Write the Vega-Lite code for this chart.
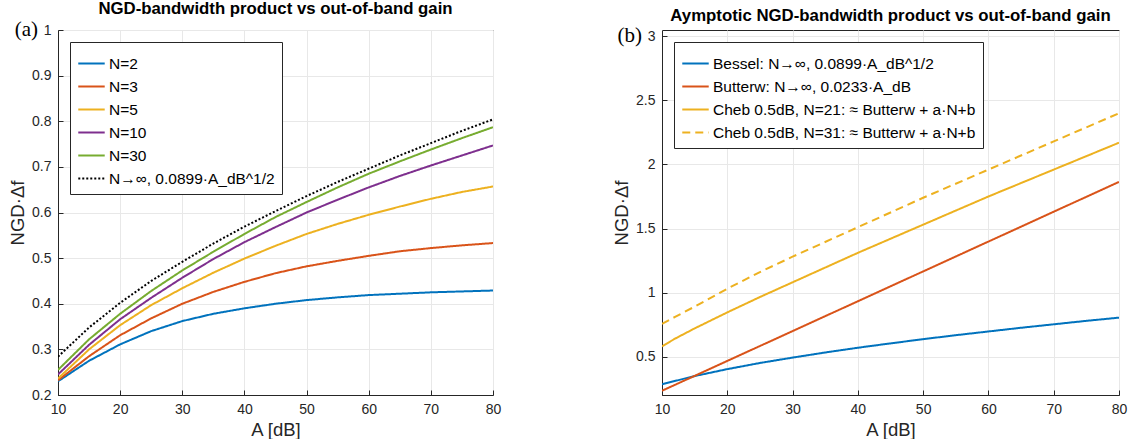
{
  "$schema": "https://vega.github.io/schema/vega-lite/v6.json",
  "padding": {"left": 8, "top": 0, "right": 0, "bottom": 0},
  "spacing": 110,
  "config": {
    "font": "Liberation Sans",
    "view": {"stroke": "#262626", "strokeWidth": 1},
    "axis": {
      "gridColor": "#e8e8e8", "gridWidth": 1, "domainColor": "#262626",
      "tickColor": "#262626", "tickSize": -5, "labelPadding": 12, "labelFlush": false,
      "labelFont": "Liberation Sans", "labelFontSize": 14, "labelColor": "#262626",
      "titleFont": "Liberation Sans", "titleFontSize": 18.5, "titleFontWeight": "normal", "titleColor": "#262626"
    },
    "title": {"font": "Liberation Sans", "fontSize": 16.8, "fontWeight": "bold", "color": "#000000", "offset": 1},
    "legend": {
      "orient": "top-left", "offset": 12, "strokeColor": "#262626", "fillColor": "#ffffff",
      "padding": 7, "labelFontSize": 15.5, "labelColor": "#000000", "labelFont": "Liberation Sans", "labelLimit": 0,
      "symbolType": "stroke", "symbolSize": 700, "symbolStrokeWidth": 2, "rowPadding": 0, "labelOffset": 3, "cornerRadius": 0
    }
  },
  "datasets": {
    "left": [
      {"A":10,"v":0.230,"s":"N=2"},{"A":15,"v":0.275,"s":"N=2"},{"A":20,"v":0.311,"s":"N=2"},{"A":25,"v":0.340,"s":"N=2"},{"A":30,"v":0.362,"s":"N=2"},{"A":35,"v":0.378,"s":"N=2"},{"A":40,"v":0.390,"s":"N=2"},{"A":45,"v":0.400,"s":"N=2"},{"A":50,"v":0.408,"s":"N=2"},{"A":55,"v":0.414,"s":"N=2"},{"A":60,"v":0.419,"s":"N=2"},{"A":65,"v":0.422,"s":"N=2"},{"A":70,"v":0.425,"s":"N=2"},{"A":75,"v":0.427,"s":"N=2"},{"A":80,"v":0.429,"s":"N=2"},
      {"A":10,"v":0.232,"s":"N=3"},{"A":15,"v":0.285,"s":"N=3"},{"A":20,"v":0.331,"s":"N=3"},{"A":25,"v":0.368,"s":"N=3"},{"A":30,"v":0.400,"s":"N=3"},{"A":35,"v":0.426,"s":"N=3"},{"A":40,"v":0.448,"s":"N=3"},{"A":45,"v":0.467,"s":"N=3"},{"A":50,"v":0.482,"s":"N=3"},{"A":55,"v":0.494,"s":"N=3"},{"A":60,"v":0.505,"s":"N=3"},{"A":65,"v":0.515,"s":"N=3"},{"A":70,"v":0.522,"s":"N=3"},{"A":75,"v":0.528,"s":"N=3"},{"A":80,"v":0.533,"s":"N=3"},
      {"A":10,"v":0.236,"s":"N=5"},{"A":15,"v":0.300,"s":"N=5"},{"A":20,"v":0.353,"s":"N=5"},{"A":25,"v":0.397,"s":"N=5"},{"A":30,"v":0.434,"s":"N=5"},{"A":35,"v":0.468,"s":"N=5"},{"A":40,"v":0.499,"s":"N=5"},{"A":45,"v":0.527,"s":"N=5"},{"A":50,"v":0.553,"s":"N=5"},{"A":55,"v":0.575,"s":"N=5"},{"A":60,"v":0.595,"s":"N=5"},{"A":65,"v":0.613,"s":"N=5"},{"A":70,"v":0.630,"s":"N=5"},{"A":75,"v":0.645,"s":"N=5"},{"A":80,"v":0.657,"s":"N=5"},
      {"A":10,"v":0.245,"s":"N=10"},{"A":15,"v":0.310,"s":"N=10"},{"A":20,"v":0.366,"s":"N=10"},{"A":25,"v":0.413,"s":"N=10"},{"A":30,"v":0.457,"s":"N=10"},{"A":35,"v":0.498,"s":"N=10"},{"A":40,"v":0.535,"s":"N=10"},{"A":45,"v":0.568,"s":"N=10"},{"A":50,"v":0.600,"s":"N=10"},{"A":55,"v":0.628,"s":"N=10"},{"A":60,"v":0.655,"s":"N=10"},{"A":65,"v":0.680,"s":"N=10"},{"A":70,"v":0.703,"s":"N=10"},{"A":75,"v":0.725,"s":"N=10"},{"A":80,"v":0.747,"s":"N=10"},
      {"A":10,"v":0.255,"s":"N=30"},{"A":15,"v":0.322,"s":"N=30"},{"A":20,"v":0.378,"s":"N=30"},{"A":25,"v":0.428,"s":"N=30"},{"A":30,"v":0.473,"s":"N=30"},{"A":35,"v":0.514,"s":"N=30"},{"A":40,"v":0.553,"s":"N=30"},{"A":45,"v":0.590,"s":"N=30"},{"A":50,"v":0.623,"s":"N=30"},{"A":55,"v":0.655,"s":"N=30"},{"A":60,"v":0.685,"s":"N=30"},{"A":65,"v":0.712,"s":"N=30"},{"A":70,"v":0.738,"s":"N=30"},{"A":75,"v":0.763,"s":"N=30"},{"A":80,"v":0.787,"s":"N=30"},
      {"A":10,"v":0.284,"s":"N→∞, 0.0899·A_dB^1/2"},{"A":15,"v":0.348,"s":"N→∞, 0.0899·A_dB^1/2"},{"A":20,"v":0.402,"s":"N→∞, 0.0899·A_dB^1/2"},{"A":25,"v":0.450,"s":"N→∞, 0.0899·A_dB^1/2"},{"A":30,"v":0.492,"s":"N→∞, 0.0899·A_dB^1/2"},{"A":35,"v":0.532,"s":"N→∞, 0.0899·A_dB^1/2"},{"A":40,"v":0.569,"s":"N→∞, 0.0899·A_dB^1/2"},{"A":45,"v":0.603,"s":"N→∞, 0.0899·A_dB^1/2"},{"A":50,"v":0.636,"s":"N→∞, 0.0899·A_dB^1/2"},{"A":55,"v":0.667,"s":"N→∞, 0.0899·A_dB^1/2"},{"A":60,"v":0.696,"s":"N→∞, 0.0899·A_dB^1/2"},{"A":65,"v":0.725,"s":"N→∞, 0.0899·A_dB^1/2"},{"A":70,"v":0.752,"s":"N→∞, 0.0899·A_dB^1/2"},{"A":75,"v":0.779,"s":"N→∞, 0.0899·A_dB^1/2"},{"A":80,"v":0.804,"s":"N→∞, 0.0899·A_dB^1/2"}
    ],
    "right": [
      {"A":10,"v":0.284,"s":"Bessel: N→∞, 0.0899·A_dB^1/2"},{"A":15,"v":0.348,"s":"Bessel: N→∞, 0.0899·A_dB^1/2"},{"A":20,"v":0.402,"s":"Bessel: N→∞, 0.0899·A_dB^1/2"},{"A":25,"v":0.450,"s":"Bessel: N→∞, 0.0899·A_dB^1/2"},{"A":30,"v":0.492,"s":"Bessel: N→∞, 0.0899·A_dB^1/2"},{"A":35,"v":0.532,"s":"Bessel: N→∞, 0.0899·A_dB^1/2"},{"A":40,"v":0.569,"s":"Bessel: N→∞, 0.0899·A_dB^1/2"},{"A":45,"v":0.603,"s":"Bessel: N→∞, 0.0899·A_dB^1/2"},{"A":50,"v":0.636,"s":"Bessel: N→∞, 0.0899·A_dB^1/2"},{"A":55,"v":0.667,"s":"Bessel: N→∞, 0.0899·A_dB^1/2"},{"A":60,"v":0.696,"s":"Bessel: N→∞, 0.0899·A_dB^1/2"},{"A":65,"v":0.725,"s":"Bessel: N→∞, 0.0899·A_dB^1/2"},{"A":70,"v":0.752,"s":"Bessel: N→∞, 0.0899·A_dB^1/2"},{"A":75,"v":0.779,"s":"Bessel: N→∞, 0.0899·A_dB^1/2"},{"A":80,"v":0.804,"s":"Bessel: N→∞, 0.0899·A_dB^1/2"},
      {"A":10,"v":0.233,"s":"Butterw: N→∞, 0.0233·A_dB"},{"A":20,"v":0.466,"s":"Butterw: N→∞, 0.0233·A_dB"},{"A":30,"v":0.699,"s":"Butterw: N→∞, 0.0233·A_dB"},{"A":40,"v":0.932,"s":"Butterw: N→∞, 0.0233·A_dB"},{"A":50,"v":1.165,"s":"Butterw: N→∞, 0.0233·A_dB"},{"A":60,"v":1.398,"s":"Butterw: N→∞, 0.0233·A_dB"},{"A":70,"v":1.631,"s":"Butterw: N→∞, 0.0233·A_dB"},{"A":80,"v":1.864,"s":"Butterw: N→∞, 0.0233·A_dB"},
      {"A":10,"v":0.58,"s":"Cheb 0.5dB, N=21: ≈ Butterw + a·N+b"},{"A":12,"v":0.64,"s":"Cheb 0.5dB, N=21: ≈ Butterw + a·N+b"},{"A":15,"v":0.72,"s":"Cheb 0.5dB, N=21: ≈ Butterw + a·N+b"},{"A":20,"v":0.845,"s":"Cheb 0.5dB, N=21: ≈ Butterw + a·N+b"},{"A":25,"v":0.965,"s":"Cheb 0.5dB, N=21: ≈ Butterw + a·N+b"},{"A":30,"v":1.08,"s":"Cheb 0.5dB, N=21: ≈ Butterw + a·N+b"},{"A":40,"v":1.31,"s":"Cheb 0.5dB, N=21: ≈ Butterw + a·N+b"},{"A":50,"v":1.53,"s":"Cheb 0.5dB, N=21: ≈ Butterw + a·N+b"},{"A":60,"v":1.75,"s":"Cheb 0.5dB, N=21: ≈ Butterw + a·N+b"},{"A":70,"v":1.96,"s":"Cheb 0.5dB, N=21: ≈ Butterw + a·N+b"},{"A":80,"v":2.17,"s":"Cheb 0.5dB, N=21: ≈ Butterw + a·N+b"},
      {"A":10,"v":0.755,"s":"Cheb 0.5dB, N=31: ≈ Butterw + a·N+b"},{"A":12,"v":0.81,"s":"Cheb 0.5dB, N=31: ≈ Butterw + a·N+b"},{"A":15,"v":0.89,"s":"Cheb 0.5dB, N=31: ≈ Butterw + a·N+b"},{"A":20,"v":1.03,"s":"Cheb 0.5dB, N=31: ≈ Butterw + a·N+b"},{"A":25,"v":1.16,"s":"Cheb 0.5dB, N=31: ≈ Butterw + a·N+b"},{"A":30,"v":1.28,"s":"Cheb 0.5dB, N=31: ≈ Butterw + a·N+b"},{"A":40,"v":1.51,"s":"Cheb 0.5dB, N=31: ≈ Butterw + a·N+b"},{"A":50,"v":1.74,"s":"Cheb 0.5dB, N=31: ≈ Butterw + a·N+b"},{"A":60,"v":1.96,"s":"Cheb 0.5dB, N=31: ≈ Butterw + a·N+b"},{"A":70,"v":2.18,"s":"Cheb 0.5dB, N=31: ≈ Butterw + a·N+b"},{"A":80,"v":2.40,"s":"Cheb 0.5dB, N=31: ≈ Butterw + a·N+b"}
    ]
  },
  "hconcat": [
    {
      "width": 435, "height": 365,
      "title": "NGD-bandwidth product vs out-of-band gain",
      "layer": [
        {
          "data": {"name": "left"},
          "mark": {"type": "line", "strokeWidth": 2, "clip": true},
          "encoding": {
            "x": {"field": "A", "type": "quantitative", "scale": {"domain": [10, 80], "nice": false}, "axis": {"title": "A [dB]", "values": [10,20,30,40,50,60,70,80]}},
            "y": {"field": "v", "type": "quantitative", "scale": {"domain": [0.2, 1], "nice": false, "zero": false}, "axis": {"title": "NGD·Δf", "values": [0.2,0.3,0.4,0.5,0.6,0.7,0.8,0.9,1], "format": "~g"}},
            "color": {"field": "s", "type": "nominal", "sort": null, "title": null,
              "scale": {"domain": ["N=2","N=3","N=5","N=10","N=30","N→∞, 0.0899·A_dB^1/2"], "range": ["#0072BD","#D95319","#EDB120","#7E2F8E","#77AC30","#000000"]}},
            "strokeDash": {"field": "s", "type": "nominal", "sort": null, "title": null,
              "scale": {"domain": ["N=2","N=3","N=5","N=10","N=30","N→∞, 0.0899·A_dB^1/2"], "range": [[1,0],[1,0],[1,0],[1,0],[1,0],[2,2]]}}
          }
        },
        {
          "data": {"values": [{"t": "(a)"}]},
          "mark": {"type": "text", "font": "Liberation Serif", "fontSize": 21, "align": "right", "baseline": "middle", "dx": -20, "color": "#000000"},
          "encoding": {"x": {"datum": 10, "type": "quantitative"}, "y": {"datum": 1, "type": "quantitative"}, "text": {"field": "t"}}
        }
      ]
    },
    {
      "width": 457, "height": 365,
      "title": "Aymptotic NGD-bandwidth product vs out-of-band gain",
      "layer": [
        {
          "data": {"name": "right"},
          "mark": {"type": "line", "strokeWidth": 2, "clip": true},
          "encoding": {
            "x": {"field": "A", "type": "quantitative", "scale": {"domain": [10, 80], "nice": false}, "axis": {"title": "A [dB]", "values": [10,20,30,40,50,60,70,80]}},
            "y": {"field": "v", "type": "quantitative", "scale": {"domain": [0.2, 3.05], "nice": false, "zero": false}, "axis": {"title": "NGD·Δf", "values": [0.5,1,1.5,2,2.5,3], "format": "~g"}},
            "color": {"field": "s", "type": "nominal", "sort": null, "title": null,
              "scale": {"domain": ["Bessel: N→∞, 0.0899·A_dB^1/2","Butterw: N→∞, 0.0233·A_dB","Cheb 0.5dB, N=21: ≈ Butterw + a·N+b","Cheb 0.5dB, N=31: ≈ Butterw + a·N+b"], "range": ["#0072BD","#D95319","#EDB120","#EDB120"]}},
            "strokeDash": {"field": "s", "type": "nominal", "sort": null, "title": null,
              "scale": {"domain": ["Bessel: N→∞, 0.0899·A_dB^1/2","Butterw: N→∞, 0.0233·A_dB","Cheb 0.5dB, N=21: ≈ Butterw + a·N+b","Cheb 0.5dB, N=31: ≈ Butterw + a·N+b"], "range": [[1,0],[1,0],[1,0],[8,5]]}}
          }
        },
        {
          "data": {"values": [{"t": "(b)"}]},
          "mark": {"type": "text", "font": "Liberation Serif", "fontSize": 21, "align": "right", "baseline": "middle", "dx": -20, "color": "#000000"},
          "encoding": {"x": {"datum": 10, "type": "quantitative"}, "y": {"datum": 3, "type": "quantitative"}, "text": {"field": "t"}}
        }
      ]
    }
  ],
  "resolve": {"legend": {"color": "independent", "strokeDash": "independent"}, "scale": {"color": "independent", "strokeDash": "independent"}}
}
